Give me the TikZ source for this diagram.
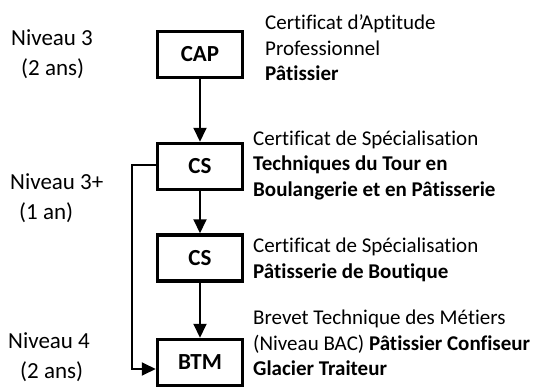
\documentclass[tikz,border=0pt]{standalone}
\usepackage{fontspec}
\setmainfont{Carlito}[Ligatures=NoCommon]
\usetikzlibrary{arrows.meta}
\tikzset{
  diplome/.style={draw, line width=3.5pt, minimum width=85pt, minimum height=46pt,
    inner sep=0pt, font=\fontsize{23}{28}\selectfont\bfseries},
  descr/.style={anchor=west, align=left, inner sep=0pt, font=\fontsize{21}{25.5}\selectfont},
  niveau/.style={anchor=west, align=left, inner sep=0pt, font=\fontsize{23}{29.5}\selectfont},
  fleche/.style={line width=2pt, -{Triangle[length=14pt,width=13pt]}}
}
\begin{document}
\begin{tikzpicture}[x=1pt,y=-1pt]
			\useasboundingbox (0,0) rectangle (539,391);
			% les diplomes
			\node[diplome] (cap) at (200,54.5) {CAP};
			\node[diplome] (cs1) at (200,166.5) {CS};
			\node[diplome] (cs2) at (200,258) {CS};
			\node[diplome] (btm) at (200,362.5) {BTM};
			% niveaux
			\node[niveau] (niv3) at (11,54) {Niveau 3\\\hspace{10pt}(2 ans)};
			\node[niveau] (niv3p) at (10,198) {Niveau 3+\\\hspace{9pt}(1 an)};
			\node[niveau] (niv4) at (8,357) {Niveau 4\\\hspace{12pt}(2 ans)};
			% descriptions
			\node[descr] (capdesc) at (265,48) {Certificat d’Aptitude\\Professionnel\\\textbf{Pâtissier}};
			\node[descr] (cs1desc) at (253,165) {Certificat de Spécialisation\\\textbf{Techniques du Tour en}\\\textbf{Boulangerie et en Pâtisserie}};
			\node[descr] (cs2desc) at (253,260) {Certificat de Spécialisation\\\textbf{Pâtisserie de Boutique}};
			\node[descr] (btmdesc) at (253,343) {Brevet Technique des Métiers\\(Niveau BAC) \textbf{Pâtissier Confiseur}\\\textbf{Glacier Traiteur}};
			% fleches
			\draw[fleche] (cap) -- (cs1);
			\draw[fleche] (cs1) -- (cs2);
			\draw[fleche] (cs2) -- (btm);
			\draw[fleche] ([yshift=2pt]cs1.west) -| (132,250) |- ([yshift=-6.5pt]btm.west);
		\end{tikzpicture}
\end{document}
